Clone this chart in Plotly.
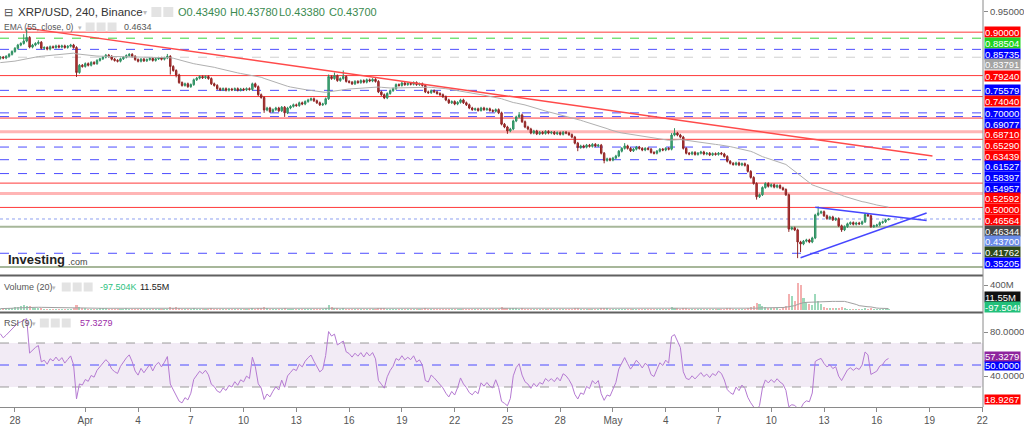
import numpy as np
import pandas as pd
import plotly.graph_objects as go

# ---------------- DATA ----------------
start_time = "2022-03-27 04:00"   # first 4h candle
first_open = 0.835
closes = [
    0.838, 0.836, 0.840, 0.845, 0.852, 0.860, 0.868, 0.872, 0.878, 0.887,
    0.863, 0.868, 0.872, 0.875, 0.860, 0.862, 0.858, 0.864, 0.862, 0.866,
    0.863, 0.866, 0.862, 0.865, 0.868, 0.862, 0.800, 0.818, 0.815, 0.822,
    0.818, 0.825, 0.822, 0.830, 0.834, 0.838, 0.843, 0.840, 0.833, 0.830,
    0.828, 0.834, 0.838, 0.842, 0.845, 0.840, 0.832, 0.828, 0.833, 0.829,
    0.832, 0.835, 0.830, 0.834, 0.836, 0.833, 0.836, 0.840, 0.815, 0.805,
    0.794, 0.775, 0.768, 0.772, 0.765, 0.770, 0.782, 0.786, 0.790, 0.787,
    0.790, 0.785, 0.772, 0.768, 0.760, 0.757, 0.760, 0.756, 0.759, 0.757,
    0.760, 0.756, 0.759, 0.757, 0.760, 0.758, 0.772, 0.765, 0.745, 0.738,
    0.707, 0.712, 0.703, 0.708, 0.712, 0.705, 0.714, 0.700, 0.712, 0.716,
    0.720, 0.718, 0.725, 0.722, 0.728, 0.732, 0.735, 0.730, 0.725, 0.720,
    0.722, 0.735, 0.790, 0.785, 0.792, 0.780, 0.785, 0.790, 0.778, 0.776,
    0.772, 0.778, 0.775, 0.780, 0.776, 0.782, 0.779, 0.783, 0.778, 0.752,
    0.745, 0.737, 0.748, 0.755, 0.760, 0.770, 0.768, 0.774, 0.770, 0.773,
    0.771, 0.775, 0.770, 0.772, 0.768, 0.752, 0.750, 0.755, 0.752, 0.748,
    0.745, 0.740, 0.732, 0.725, 0.728, 0.722, 0.726, 0.732, 0.725, 0.720,
    0.712, 0.708, 0.710, 0.706, 0.712, 0.708, 0.710, 0.706, 0.704, 0.708,
    0.700, 0.672, 0.665, 0.655, 0.660, 0.680, 0.690, 0.695, 0.678, 0.665,
    0.660, 0.650, 0.655, 0.648, 0.652, 0.649, 0.654, 0.650, 0.652, 0.648,
    0.651, 0.647, 0.652, 0.650, 0.646, 0.640, 0.625, 0.614, 0.618, 0.615,
    0.620, 0.617, 0.622, 0.618, 0.620, 0.600, 0.582, 0.586, 0.583, 0.588,
    0.593, 0.605, 0.612, 0.618, 0.612, 0.606, 0.610, 0.615, 0.612, 0.608,
    0.612, 0.610, 0.602, 0.600, 0.605, 0.610, 0.608, 0.612, 0.610, 0.645,
    0.650, 0.645, 0.640, 0.612, 0.600, 0.598, 0.602, 0.597, 0.600, 0.603,
    0.598, 0.600, 0.596, 0.599, 0.597, 0.600, 0.598, 0.592, 0.580, 0.575,
    0.572, 0.576, 0.571, 0.574, 0.570, 0.555, 0.540, 0.525, 0.492, 0.497,
    0.515, 0.525, 0.518, 0.522, 0.516, 0.520, 0.514, 0.510, 0.497, 0.412,
    0.415, 0.410, 0.380, 0.375, 0.382, 0.385, 0.380, 0.390, 0.447, 0.452,
    0.455, 0.445, 0.438, 0.442, 0.435, 0.438, 0.420, 0.410, 0.418, 0.425,
    0.428, 0.424, 0.427, 0.425, 0.430, 0.448, 0.445, 0.418, 0.420, 0.422,
    0.428, 0.430, 0.4349, 0.4370,
]
# notable wick extremes (candle index -> price)
high_marks = {8: 0.895, 9: 0.910, 13: 0.880, 57: 0.846, 112: 0.795, 114: 0.800,
              117: 0.805, 177: 0.702, 213: 0.625, 229: 0.650, 230: 0.662,
              278: 0.450, 279: 0.468, 295: 0.452, 303: 0.4378}
low_marks = {26: 0.789, 58: 0.795, 60: 0.788, 90: 0.700, 97: 0.690, 173: 0.648,
             197: 0.605, 206: 0.575, 258: 0.485, 269: 0.405, 272: 0.340,
             273: 0.355, 287: 0.405, 303: 0.4338}
small_wick = 0.003

volumes_m = [
    22, 20, 25, 32, 40, 55, 50, 60, 80, 70,
    60, 40, 32, 28, 25, 22, 20, 22, 18, 20,
    19, 17, 22, 20, 22, 28, 85, 50, 32, 25,
    22, 19, 22, 23, 28, 26, 30, 23, 20, 19,
    18, 20, 23, 25, 22, 20, 23, 18, 16, 18,
    16, 18, 16, 20, 18, 16, 20, 23, 55, 40,
    45, 36, 23, 20, 22, 18, 25, 23, 20, 18,
    18, 20, 27, 23, 20, 18, 16, 16, 18, 16,
    14, 16, 18, 16, 14, 16, 27, 20, 32, 36,
    46, 28, 23, 20, 22, 18, 20, 27, 22, 20,
    18, 20, 22, 18, 20, 23, 22, 18, 20, 23,
    22, 28, 80, 50, 40, 27, 23, 25, 20, 18,
    18, 16, 18, 20, 16, 18, 16, 18, 20, 36,
    28, 32, 23, 20, 22, 20, 18, 20, 18, 16,
    16, 18, 16, 16, 18, 27, 22, 18, 16, 18,
    18, 20, 23, 22, 18, 20, 16, 18, 16, 18,
    20, 18, 16, 18, 16, 18, 16, 16, 18, 16,
    23, 45, 36, 40, 28, 32, 27, 23, 25, 22,
    20, 18, 16, 18, 16, 16, 18, 16, 14, 16,
    14, 16, 14, 16, 16, 20, 27, 36, 23, 20,
    18, 16, 18, 16, 18, 27, 40, 32, 23, 20,
    20, 23, 22, 20, 18, 16, 18, 16, 18, 16,
    16, 18, 20, 18, 16, 18, 16, 18, 20, 45,
    36, 27, 23, 40, 32, 23, 20, 18, 20, 18,
    16, 18, 16, 18, 16, 18, 20, 23, 32, 27,
    23, 22, 20, 22, 23, 36, 45, 60, 110, 90,
    65, 45, 36, 28, 27, 25, 23, 27, 60, 260,
    220, 150, 440, 400, 200, 130, 100, 80, 260, 140,
    90, 55, 40, 32, 28, 25, 36, 45, 28, 23,
    22, 20, 18, 20, 18, 30, 23, 32, 20, 18,
    18, 16, 18, 11.55,
]
assert len(closes) == len(volumes_m) == 304

ema_period = 55
ema_seed = 0.824
rsi_period = 9
rsi_seed_gain, rsi_seed_loss = 0.004, 0.0012
vol_ma_period = 20

# horizontal price levels (value, kind)
level_values = [0.90000, 0.88504, 0.85735, 0.83791, 0.79240, 0.75579, 0.74040,
                0.70000, 0.69077, 0.68710, 0.65290, 0.63439, 0.61527, 0.58397,
                0.54957, 0.52592, 0.50000, 0.46564, 0.41762, 0.35205, 0.31828]
level_kinds = ["red", "green", "blue", "grey", "red", "blue", "red",
               "blue", "blue", "red", "pink", "red", "blue", "blue",
               "blue", "red", "pink", "red", "olive", "blue", "olive"]
ema_label_value = 0.46344
last_price = 0.43700
rsi_labels = [57.3279, 50.0, 18.9267]

# drawn trend lines
trend_red_t = ["2022-03-28 16:00", "2022-05-19 04:00"]
trend_red_p = [0.910, 0.593]
tri_upper_t = ["2022-05-12 12:00", "2022-05-18 20:00"]
tri_upper_p = [0.466, 0.433]
tri_lower_t = ["2022-05-11 16:00", "2022-05-18 20:00"]
tri_lower_p = [0.341, 0.452]

tick_dates = ["2022-03-28", "2022-04-01", "2022-04-04", "2022-04-07", "2022-04-10",
              "2022-04-13", "2022-04-16", "2022-04-19", "2022-04-22", "2022-04-25",
              "2022-04-28", "2022-05-01", "2022-05-04", "2022-05-07", "2022-05-10",
              "2022-05-13", "2022-05-16", "2022-05-19", "2022-05-22"]
tick_text = ["28", "Apr", "4", "7", "10", "13", "16", "19", "22", "25", "28",
             "May", "4", "7", "10", "13", "16", "19", "22"]

# ---------------- DERIVED ----------------
times = pd.date_range(start_time, periods=len(closes), freq="4h")
opens = [first_open] + closes[:-1]
highs, lows = [], []
for i, (o, c) in enumerate(zip(opens, closes)):
    highs.append(high_marks.get(i, max(o, c) + small_wick))
    lows.append(low_marks.get(i, min(o, c) - small_wick))

ema = []
a = 2 / (ema_period + 1)
e = ema_seed
for c in closes:
    e = a * c + (1 - a) * e
    ema.append(e)

ag, al = rsi_seed_gain, rsi_seed_loss
rsi = []
prev = first_open
for c in closes:
    d = c - prev
    prev = c
    ag = (ag * (rsi_period - 1) + max(d, 0)) / rsi_period
    al = (al * (rsi_period - 1) + max(-d, 0)) / rsi_period
    rsi.append(100 - 100 / (1 + ag / al))

vol = np.array(volumes_m) * 1e6
vol_ma = pd.Series(vol).rolling(vol_ma_period, min_periods=1).mean()
up = [c >= o for o, c in zip(opens, closes)]

# ---------------- LAYOUT GEOMETRY (px) ----------------
W, H = 1024, 430
PLOT_W, PLOT_H = 987, 407
PRICE_RANGE = [0.2982, 0.9797]
VOL_RANGE = [-32e6, 544e6]
RSI_RANGE = [11.8, 96.4]
RSI_TOP, RSI_BOT = 314, 407
px_per_day = 17.66
x_start = pd.Timestamp("2022-03-28") - pd.Timedelta(days=15 / px_per_day)
x_end = x_start + pd.Timedelta(days=PLOT_W / px_per_day)


def px(x, y):
    return x / PLOT_W, 1 - y / PLOT_H


fig = go.Figure()

fig.add_trace(go.Candlestick(
    x=times, open=opens, high=highs, low=lows, close=closes,
    increasing=dict(line=dict(color="#2f8f62", width=1), fillcolor="#45b07f"),
    decreasing=dict(line=dict(color="#8e2424", width=1), fillcolor="#c23a3a"),
    whiskerwidth=0, showlegend=False, hoverinfo="skip", yaxis="y"))

fig.add_trace(go.Scatter(x=times, y=ema, mode="lines", yaxis="y",
                         line=dict(color="#b0b0b0", width=1), hoverinfo="skip", showlegend=False))
fig.add_trace(go.Scatter(x=pd.to_datetime(trend_red_t), y=trend_red_p, mode="lines", yaxis="y",
                         line=dict(color="#ff4a4a", width=1.5), hoverinfo="skip", showlegend=False))
fig.add_trace(go.Scatter(x=pd.to_datetime(tri_upper_t), y=tri_upper_p, mode="lines", yaxis="y",
                         line=dict(color="#4646ff", width=1.5), hoverinfo="skip", showlegend=False))
fig.add_trace(go.Scatter(x=pd.to_datetime(tri_lower_t), y=tri_lower_p, mode="lines", yaxis="y",
                         line=dict(color="#4646ff", width=1.5), hoverinfo="skip", showlegend=False))

fig.add_trace(go.Bar(x=times, y=vol, yaxis="y2", width=4 * 3600 * 1000 * 0.7,
                     marker=dict(color=["rgba(60,180,120,0.5)" if u else "rgba(230,80,80,0.45)" for u in up],
                                 line=dict(width=0)),
                     hoverinfo="skip", showlegend=False))
fig.add_trace(go.Scatter(x=times, y=vol_ma, mode="lines", yaxis="y2",
                         line=dict(color="#a0a0a0", width=1), hoverinfo="skip", showlegend=False))

fig.add_trace(go.Scatter(x=times, y=rsi, mode="lines", yaxis="y3",
                         line=dict(color="#b57ad2", width=1), hoverinfo="skip", showlegend=False))

shapes = []
annotations = []

level_style = {
    "red": ("#ff3a3a", "solid", 1, "#ff0000"),
    "pink": ("rgba(255,90,90,0.45)", "solid", 3, "#ff0000"),
    "blue": ("#4d4dff", "dash", 1, "#0000ff"),
    "green": ("#3ad43a", "dash", 1, "#1fd21f"),
    "grey": ("#cfcfcf", "dash", 1, "#a3a3a3"),
    "olive": ("#a7b79a", "solid", 2, "#2e4a1c"),
}
for v, k in zip(level_values, level_kinds):
    lc, dash, w, _ = level_style[k]
    shapes.append(dict(type="line", xref="paper", yref="y", x0=0, x1=1, y0=v, y1=v,
                       line=dict(color=lc, width=w, dash=dash), layer="below"))
shapes.append(dict(type="line", xref="paper", yref="y", x0=0, x1=1, y0=last_price, y1=last_price,
                   line=dict(color="#8fa0f0", width=1, dash="dot"), layer="below"))

FONT = "Liberation Sans, Arial, sans-serif"

# right-side value labels, stacked so that they do not overlap
px_per_price = 275 / (PRICE_RANGE[1] - PRICE_RANGE[0])
gap = 10.7 / px_per_price
labels = [(v, level_style[k][3]) for v, k in zip(level_values, level_kinds)]
labels.append((ema_label_value, "#454545"))
labels.append((last_price, "#6b8ce8"))
labels.sort(key=lambda t: -t[0])
prev_pos = None
for v, bg in labels:
    pos = v if prev_pos is None or prev_pos - v >= gap else prev_pos - gap
    prev_pos = pos
    if pos < PRICE_RANGE[0] + gap * 0.4:
        continue
    annotations.append(dict(xref="paper", yref="y", x=1, y=pos, xanchor="left", yanchor="middle",
                            xshift=1, text=f"{v:.5f}", showarrow=False, bgcolor=bg, width=35, height=10,
                            align="left", borderpad=0,
                            font=dict(family=FONT, size=9.5, color="#ffffff")))

# pane separators and axis line
for ysep in (275.5, 312.5):
    shapes.append(dict(type="line", xref="paper", yref="paper", x0=0, x1=1,
                       y0=1 - ysep / PLOT_H, y1=1 - ysep / PLOT_H, line=dict(color="#606060", width=2)))
shapes.append(dict(type="line", xref="paper", yref="paper", x0=1, x1=1, y0=0, y1=1,
                   line=dict(color="#8a8a8a", width=1)))

# RSI band and levels
shapes.append(dict(type="rect", xref="paper", yref="y3", x0=0, x1=1, y0=30, y1=70,
                   fillcolor="rgba(150,90,170,0.12)", line=dict(width=0), layer="below"))
for lv, col in ((70, "#9a9a9a"), (30, "#9a9a9a"), (50, "#4a4aff")):
    shapes.append(dict(type="line", xref="paper", yref="y3", x0=0, x1=1, y0=lv, y1=lv,
                       line=dict(color=col, width=1, dash="dash"), layer="below"))


def text(x, y, s, size=10, color="#444", **kw):
    xp, yp = px(x, y)
    d = dict(xref="paper", yref="paper", x=xp, y=yp, xanchor="left", yanchor="middle",
             text=s, showarrow=False, font=dict(family=FONT, size=size, color=color))
    d.update(kw)
    annotations.append(d)


def icons(x, y, n, size=9):
    for j in range(n):
        x0, y0 = px(x + j * (size + 2), y - size / 2)
        x1, y1 = px(x + j * (size + 2) + size, y + size / 2)
        shapes.append(dict(type="rect", xref="paper", yref="paper", x0=x0, x1=x1, y0=y1, y1=y0,
                           fillcolor="#e3e3e3", line=dict(width=0)))


# header rows
text(2, 12, "⊟", size=11, color="#555")
text(16, 12, "XRP/USD, 240, Binance", size=11.5, color="#333")
text(142, 12, "▾", size=8, color="#bbb")
icons(152, 12, 2, size=10)
for xx, s in ((177, "O0.43490"), (229, "H0.43780"), (278, "L0.43380"), (328, "C0.43700")):
    text(xx, 12, s, size=11, color="#3a8a50")
text(2, 27, "EMA (55, close, 0)", size=8.5, color="#555")
text(76, 27, "▾", size=7, color="#bbb")
icons(86, 27, 3)
text(122, 27, "0.4634", size=9, color="#555")

text(2, 287, "Volume (20)", size=9, color="#555")
text(50, 287, "▾", size=7, color="#bbb")
icons(62, 287, 3)
text(98, 287, "-97.504K", size=9, color="#2bbf80")
text(139, 287, "11.55M", size=9, color="#222")

text(2, 323, "RSI (9)", size=9, color="#555")
text(30, 323, "▾", size=7, color="#bbb")
icons(40, 323, 3)
text(78, 323, "57.3279", size=9, color="#9c2aa8")

# watermark
text(6, 259, "<b>Investing</b>", size=13, color="#222")
text(66, 262, ".com", size=9, color="#444")

# volume right-side labels
for y, s, bg in ((297, "11.55M", "#111111"), (307, "-97.504K", "#22c07a")):
    xp, yp = px(PLOT_W, y)
    annotations.append(dict(xref="paper", yref="paper", x=1, y=yp, xanchor="left", yanchor="middle",
                            xshift=1, text=s, showarrow=False, bgcolor=bg, width=35, height=10,
                            align="left", borderpad=0, font=dict(family=FONT, size=9.5, color="white")))
# rsi right-side labels (stacked upward from the 50 line)
rsi_px = (RSI_BOT - RSI_TOP) / (RSI_RANGE[1] - RSI_RANGE[0])
rsi_gap = 9 / rsi_px
rsi_bg = {57.3279: "#8e249e", 50.0: "#0000ff", 18.9267: "#ff0000"}
prev_pos = None
for v in sorted(rsi_labels):
    pos = v if prev_pos is None or v - prev_pos >= rsi_gap else prev_pos + rsi_gap
    prev_pos = pos
    annotations.append(dict(xref="paper", yref="y3", x=1, y=pos, xanchor="left", yanchor="middle",
                            xshift=1, text=f"{v:.4f}", showarrow=False, bgcolor=rsi_bg[v], width=35, height=9,
                            align="left", borderpad=0, font=dict(family=FONT, size=9.5, color="white")))

axis_common = dict(side="right", anchor="x", showgrid=False, zeroline=False, showline=False,
                   ticks="outside", ticklen=4, tickcolor="#8a8a8a",
                   tickfont=dict(family=FONT, size=9.5, color="#555"), fixedrange=True)

fig.update_layout(
    width=W, height=H, margin=dict(l=0, r=W - PLOT_W, t=0, b=H - PLOT_H),
    paper_bgcolor="white", plot_bgcolor="white", showlegend=False, hovermode=False,
    bargap=0,
    xaxis=dict(domain=[0, 1], anchor="y3", type="date", range=[x_start, x_end],
               tickvals=pd.to_datetime(tick_dates), ticktext=tick_text, showgrid=False,
               zeroline=False, showline=True, linecolor="#8a8a8a", ticks="outside", ticklen=4,
               tickcolor="#8a8a8a", tickfont=dict(family="Liberation Sans Narrow, Arial Narrow, " + FONT,
                                                  size=10, color="#555"),
               rangeslider=dict(visible=False), fixedrange=True),
    yaxis=dict(domain=[1 - 275 / PLOT_H, 1], range=PRICE_RANGE, tickvals=[0.95],
               ticktext=["0.95000"], **axis_common),
    yaxis2=dict(domain=[1 - 312 / PLOT_H, 1 - 276 / PLOT_H], range=VOL_RANGE, tickvals=[400e6],
                ticktext=["400M"], **axis_common),
    yaxis3=dict(domain=[0, 1 - RSI_TOP / PLOT_H], range=RSI_RANGE, tickvals=[80, 40],
                ticktext=["80.0000", "40.0000"], **axis_common),
    shapes=shapes, annotations=annotations,
)

fig.write_html("out.html")
